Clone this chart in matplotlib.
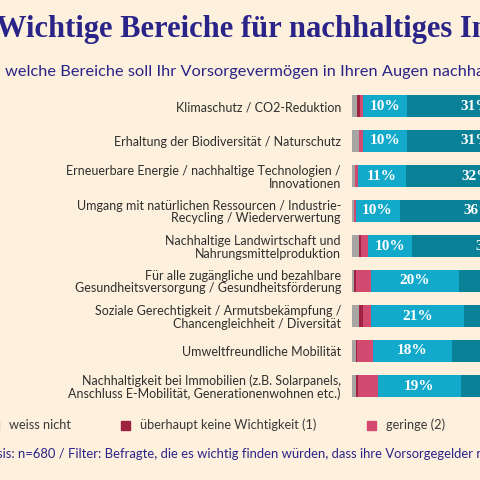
import matplotlib
matplotlib.use("Agg")
import matplotlib.pyplot as plt
import numpy as np

categories = [
    "Klimaschutz / CO2-Reduktion",
    "Erhaltung der Biodiversität / Naturschutz",
    "Erneuerbare Energie / nachhaltige Technologien /\nInnovationen",
    "Umgang mit natürlichen Ressourcen / Industrie-\nRecycling / Wiederverwertung",
    "Nachhaltige Landwirtschaft und\nNahrungsmittelproduktion",
    "Für alle zugängliche und bezahlbare\nGesundheitsversorgung / Gesundheitsförderung",
    "Soziale Gerechtigkeit / Armutsbekämpfung /\nChancengleichheit / Diversität",
    "Umweltfreundliche Mobilität",
    "Nachhaltigkeit bei Immobilien (z.B. Solarpanels,\nAnschluss E-Mobilität, Generationenwohnen etc.)",
]
weiss_nicht = [1.1, 1.5, 0.7, 0.4, 1.7, 0.4, 1.5, 0.8, 1.0]
keine = [0.7, 0.0, 0.0, 0.0, 0.4, 0.5, 1.0, 0.4, 0.4]
geringe = [0.8, 1.1, 0.6, 0.4, 1.5, 3.4, 1.9, 3.5, 4.4]
stufe3 = [10, 10, 11, 10, 10, 20, 21, 18, 19]
stufe4 = [31, 31, 32, 36, 36, 30, 28, 32, 30]
series = [weiss_nicht, keine, geringe, stufe3, stufe4]
series_names = ["weiss nicht", "überhaupt keine Wichtigkeit (1)", "geringe (2)", "(3)", "(4)"]
colors = ["#a7a5a3", "#9e2341", "#d34a70", "#12a9cb", "#0b8198"]

BG = "#fdf0dc"
NAVY = "#2a2489"
W = H = 480
fig = plt.figure(figsize=(4.8, 4.8), dpi=100, facecolor=BG)

def fx(px): return px / W
def fy(py): return 1 - py / H

ax = fig.add_axes([fx(352), fy(403.5), 440 / W, 315 / H])
ax.set_facecolor(BG)
y = np.arange(len(categories))
left = np.zeros(len(categories))
for vals, col, name in zip(series, colors, series_names):
    vals = np.array(vals, dtype=float)
    ax.barh(y, vals, left=left, height=0.63, color=col, edgecolor="none")
    if name in ("(3)", "(4)"):
        for yi, l, v in zip(y, left, vals):
            ax.text(l + v / 2, yi, f"{v:.0f}%", ha="center", va="center",
                    color="white", fontsize=11, fontweight="bold",
                    family="Liberation Serif")
    left += vals
ax.set_xlim(0, 100)
ax.set_ylim(len(categories) - 0.5, -0.5)
ax.set_xticks([])
ax.set_yticks(y)
ax.set_yticklabels(categories, fontsize=9, color="#2e2e2e", family="Lato",
                   linespacing=1.05)
ax.tick_params(axis="y", length=0, pad=8)
for s in ax.spines.values():
    s.set_visible(False)

fig.text(fx(-4), fy(30), "Wichtige Bereiche für nachhaltiges Investieren",
         ha="left", va="center", fontsize=22, fontweight="bold",
         color=NAVY, family="Liberation Serif")
fig.text(fx(5), fy(72), "welche Bereiche soll Ihr Vorsorgevermögen in Ihren Augen nachhaltig fördern?",
         ha="left", va="center", fontsize=11.8, color=NAVY, family="Lato")

# legend
leg_y = 425
items = [(-10, 0), (121, 1), (367, 2)]
for xp, i in items:
    fig.patches.append(plt.Rectangle((fx(xp), fy(leg_y + 4.5)), 9 / W, 9 / H,
                                     transform=fig.transFigure, color=colors[i]))
    fig.text(fx(xp + 19), fy(leg_y), series_names[i], ha="left", va="center",
             fontsize=9.2, color="#3a3a3a", family="Lato")

fig.text(fx(-18), fy(454), "Basis: n=680 / Filter: Befragte, die es wichtig finden würden, dass ihre Vorsorgegelder nachhaltig investiert werden",
         ha="left", va="center", fontsize=9.4, color=NAVY, family="Lato")

fig.savefig("out.png", dpi=100, facecolor=BG)
